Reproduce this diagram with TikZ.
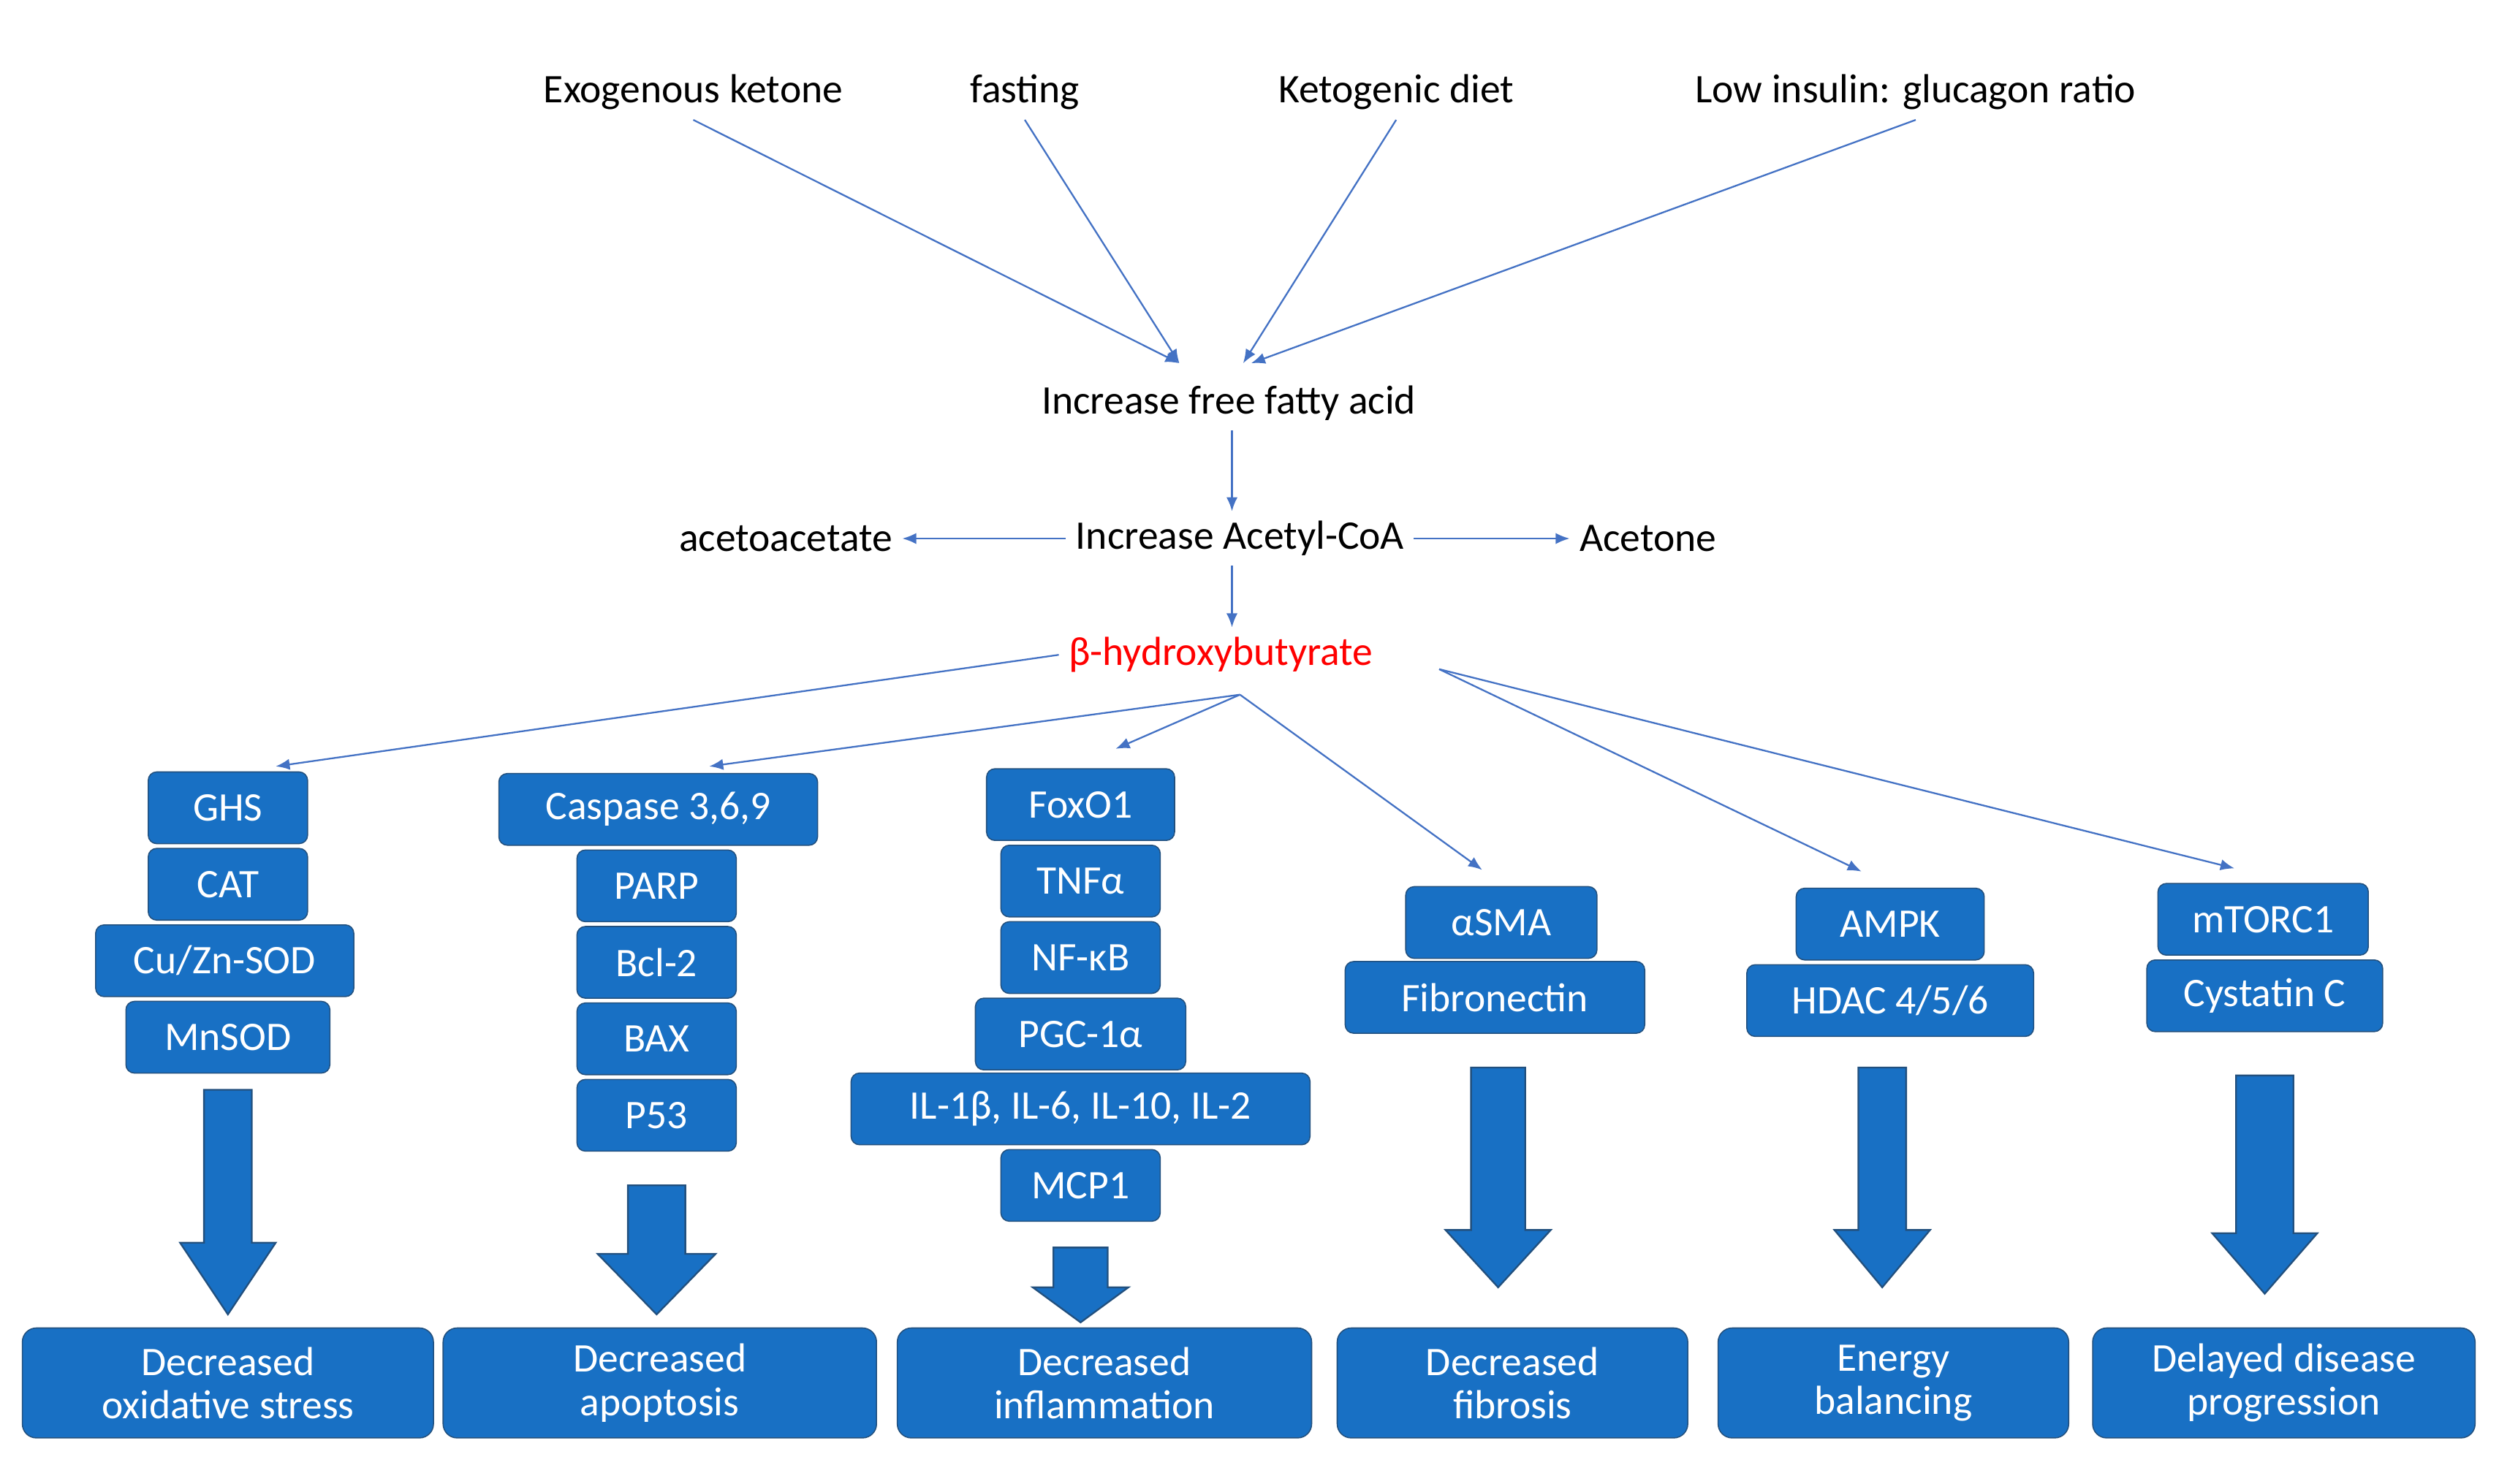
\documentclass[tikz,border=0pt]{standalone}
\usepackage{fontspec}
\setmainfont{Carlito}
\usetikzlibrary{arrows.meta}
\definecolor{boxblue}{RGB}{24,112,196}
\definecolor{boxedge}{RGB}{34,80,126}
\definecolor{linkblue}{RGB}{68,114,196}
\begin{document}
\begin{tikzpicture}[x=0.02cm,y=-0.02cm,
  lbl/.style={font=\fontsize{14.5}{17}\selectfont},
  box/.style={draw=boxedge,fill=boxblue,text=white,rounded corners=3pt,
    minimum height=0.9cm,inner sep=1pt,font=\fontsize{14.5}{17}\selectfont},
  res/.style={box,minimum height=1.38cm,align=center,rounded corners=5pt,
    font=\fontsize{14.5}{15.5}\selectfont},
  link/.style={draw=linkblue,line width=0.6pt,-{Latex[length=5pt,width=4pt]}},
  big/.style={draw=boxedge,fill=boxblue,line width=0.6pt}]
\useasboundingbox (0,0) rectangle (1568,931);
% big arrows: x, top, bottom, half shaft, half head, head height
\newcommand\bigarr[6]{\path[big] (#1-#4,#2) -- (#1+#4,#2) -- (#1+#4,#3-#6) -- (#1+#5,#3-#6)
  -- (#1,#3) -- (#1-#5,#3-#6) -- (#1-#4,#3-#6) -- cycle;}
% sources
\node[lbl] (exo) at (435,58) {Exogenous ketone};
\node[lbl] (fast) at (643,58) {fasting};
\node[lbl] (keto) at (876,58) {Ketogenic diet};
\node[lbl] (ins) at (1202,58) {Low insulin: glucagon ratio};
\node[lbl] (ffa) at (771,253) {Increase free fatty acid};
\node[lbl] (acoa) at (778,338) {Increase Acetyl-CoA};
\node[lbl] (aca) at (493,338) {acetoacetate};
\node[lbl] (ace) at (1034,338) {Acetone};
\node[lbl,text=red] (bhb) at (766,411) {β-hydroxybutyrate};
\coordinate (f1) at (740,228); \coordinate (f2) at (780,228);
\draw[link] (exo.south) -- (f1);
\draw[link] (fast.south) -- (f1);
\draw[link] (keto.south) -- (f2);
\draw[link] (ins.south) -- (785,228);
\draw[link] (ffa.south -| 773,0) -- (acoa.north -| 773,0);
\draw[link] (acoa.west) -- (aca.east);
\draw[link] (acoa.east) -- (ace.west);
\draw[link] (acoa.south -| 773,0) -- (bhb.north -| 773,0);
% column 1
\node[box,minimum width=2cm] (ghs) at (143,507) {GHS};
\node[box,minimum width=2cm] (cat) at (143,555) {CAT};
\node[box,minimum width=3.24cm] (sod) at (141,603) {Cu/Zn-SOD};
\node[box,minimum width=2.56cm] (mn) at (143,651) {MnSOD};
% column 2
\node[box,minimum width=4cm] (casp) at (413,508) {Caspase 3,6,9};
\node[box,minimum width=2cm] (parp) at (412,556) {PARP};
\node[box,minimum width=2cm] (bcl) at (412,604) {Bcl-2};
\node[box,minimum width=2cm] (bax) at (412,652) {BAX};
\node[box,minimum width=2cm] (p53) at (412,700) {P53};
% column 3
\node[box,minimum width=2.36cm] (fox) at (678,505) {FoxO1};
\node[box,minimum width=2cm] (tnf) at (678,553) {TNFα};
\node[box,minimum width=2cm] (nfk) at (678,601) {NF-κB};
\node[box,minimum width=2.64cm] (pgc) at (678,649) {PGC-1α};
\node[box,minimum width=5.76cm] (il) at (678,696) {IL-1β, IL-6, IL-10, IL-2};
\node[box,minimum width=2cm] (mcp) at (678,744) {MCP1};
% column 4
\node[box,minimum width=2.4cm] (sma) at (942,579) {αSMA};
\node[box,minimum width=3.76cm] (fib) at (938,626) {Fibronectin};
% column 5
\node[box,minimum width=2.36cm] (ampk) at (1186,580) {AMPK};
\node[box,minimum width=3.6cm] (hdac) at (1186,628) {HDAC 4/5/6};
% column 6
\node[box,minimum width=2.64cm] (mtor) at (1420,577) {mTORC1};
\node[box,minimum width=2.96cm] (cys) at (1421,625) {Cystatin C};
% links from bHB
\coordinate (hub) at (778,436);
\coordinate (hub2) at (903,420);
\draw[link] (bhb.west) -- (173,481);
\draw[link] (hub) -- (445,481);
\draw[link] (hub) -- (700,470);
\draw[link] (hub) -- (930,546);
\draw[link] (hub2) -- (1168,547);
\draw[link] (hub2) -- (1402,545);
% big arrows
\bigarr{143}{684}{825}{15}{30}{45}
\bigarr{412}{744}{825}{18}{37}{38}
\bigarr{678}{783}{830}{17}{30}{22}
\bigarr{940}{670}{808}{17}{33}{36}
\bigarr{1181}{670}{808}{15}{30}{36}
\bigarr{1421}{675}{812}{18}{33}{38}
% results
\node[res,minimum width=5.16cm] (r1) at (143,868) {Decreased\\oxidative stress};
\node[res,minimum width=5.44cm] (r2) at (414,868) {Decreased\\apoptosis};
\node[res,minimum width=5.2cm] (r3) at (693,868) {Decreased\\inflammation};
\node[res,minimum width=4.4cm] (r4) at (949,868) {Decreased\\fibrosis};
\node[res,minimum width=4.4cm] (r5) at (1188,868) {Energy\\balancing};
\node[res,minimum width=4.8cm] (r6) at (1433,868) {Delayed disease\\progression};
\end{tikzpicture}
\end{document}
